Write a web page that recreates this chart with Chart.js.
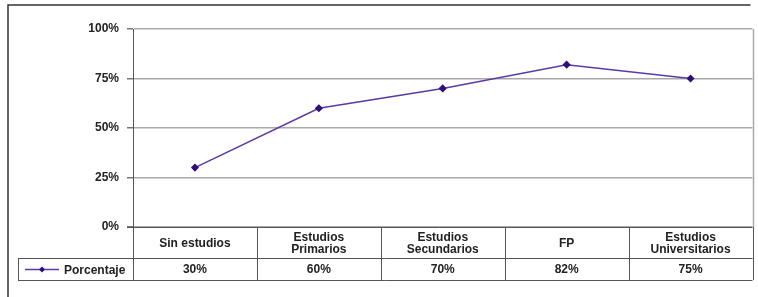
<!DOCTYPE html>
<html>
<head>
<meta charset="utf-8">
<script src="https://cdn.jsdelivr.net/npm/chart.js@4"></script>
<style>
  html, body { margin: 0; padding: 0; background: #fff; }
  #wrap { width: 758px; height: 297px; position: relative; }
</style>
</head>
<body>
<div id="wrap"><canvas id="chart"></canvas></div>
<script>
const categories = [
    ['Sin estudios'],
    ['Estudios', 'Primarios'],
    ['Estudios', 'Secundarios'],
    ['FP'],
    ['Estudios', 'Universitarios']
];
const porcentaje = [30, 60, 70, 82, 75];
const seriesName = 'Porcentaje';
const yTicks = [0, 25, 50, 75, 100];

const FONT = 'bold 12px "Liberation Sans", Arial, sans-serif';
const LINE_COLOR = '#5a3aa6';
const POINT_COLOR = '#2e0f7a';

// draws the outer frame and the data table under the plot
const tablePlugin = {
    id: 'dataTable',
    afterDraw(chart) {
        const ctx = chart.ctx;
        const area = chart.chartArea;
        const x = chart.scales.x;
        const colW = (area.right - area.left) / categories.length;
        const rowTop = area.bottom;
        const rowMid = rowTop + 31;
        const rowBot = rowMid + 22;
        const legendLeft = 18;

        ctx.save();
        // outer frame
        ctx.strokeStyle = '#333';
        ctx.lineWidth = 1.5;
        ctx.beginPath();
        ctx.moveTo(8, 297);
        ctx.lineTo(8, 5);
        ctx.lineTo(area.right - 2, 5);
        ctx.stroke();

        // right edge of the plot area
        ctx.strokeStyle = '#aaa';
        ctx.lineWidth = 1.5;
        ctx.beginPath();
        ctx.moveTo(Math.round(area.right) + 0.5, area.top);
        ctx.lineTo(Math.round(area.right) + 0.5, rowTop);
        ctx.stroke();

        // table lines
        ctx.strokeStyle = '#555';
        ctx.lineWidth = 1;
        ctx.beginPath();
        ctx.moveTo(area.left - 6, rowTop + 0.5);
        ctx.lineTo(area.right, rowTop + 0.5);
        ctx.moveTo(legendLeft, rowMid + 0.5);
        ctx.lineTo(area.right, rowMid + 0.5);
        ctx.moveTo(legendLeft, rowBot + 0.5);
        ctx.lineTo(area.right, rowBot + 0.5);
        ctx.moveTo(legendLeft + 0.5, rowMid);
        ctx.lineTo(legendLeft + 0.5, rowBot);
        for (let i = 0; i <= categories.length; i++) {
            const cx = Math.round(area.left + i * colW) + 0.5;
            ctx.moveTo(cx, rowTop);
            ctx.lineTo(cx, rowBot);
        }
        ctx.stroke();

        // category and value text
        ctx.fillStyle = '#222';
        ctx.font = FONT;
        ctx.textAlign = 'center';
        ctx.textBaseline = 'middle';
        categories.forEach((lines, i) => {
            const cx = x.getPixelForValue(i);
            const cy = (rowTop + rowMid) / 2 + 1;
            lines.forEach((t, j) => {
                ctx.fillText(t, cx, cy + (j - (lines.length - 1) / 2) * 12);
            });
            ctx.fillText(porcentaje[i] + '%', cx, (rowMid + rowBot) / 2 + 1);
        });

        // legend key
        const ly = Math.round((rowMid + rowBot) / 2) + 0.5;
        ctx.strokeStyle = LINE_COLOR;
        ctx.lineWidth = 1.5;
        ctx.beginPath();
        ctx.moveTo(25, ly);
        ctx.lineTo(59, ly);
        ctx.stroke();
        ctx.fillStyle = POINT_COLOR;
        ctx.beginPath();
        ctx.moveTo(42, ly - 3);
        ctx.lineTo(45, ly);
        ctx.lineTo(42, ly + 3);
        ctx.lineTo(39, ly);
        ctx.closePath();
        ctx.fill();
        ctx.fillStyle = '#222';
        ctx.textAlign = 'left';
        ctx.fillText(seriesName, 64, ly + 1);
        ctx.restore();
    }
};

new Chart(document.getElementById('chart'), {
    type: 'line',
    data: {
        labels: categories.map(c => c.join(' ')),
        datasets: [{
            label: seriesName,
            data: porcentaje,
            borderColor: LINE_COLOR,
            backgroundColor: POINT_COLOR,
            pointBackgroundColor: POINT_COLOR,
            pointBorderColor: POINT_COLOR,
            pointStyle: 'rectRot',
            pointRadius: 3,
            borderWidth: 1.5,
            tension: 0
        }]
    },
    options: {
        responsive: true,
        maintainAspectRatio: false,
        animation: false,
        layout: { padding: { left: 0, top: 29, right: 3, bottom: 70 } },
        plugins: { legend: { display: false }, tooltip: { enabled: false } },
        scales: {
            x: {
                display: false,
                offset: true
            },
            y: {
                min: 0,
                max: 100,
                afterFit: s => { s.width = 133; },
                afterBuildTicks: s => { s.ticks = yTicks.map(v => ({ value: v })); },
                border: { display: true, color: '#555', width: 1 },
                grid: {
                    color: '#aaa',
                    lineWidth: 1.5,
                    tickLength: 6,
                    tickColor: '#777'
                },
                ticks: {
                    padding: 8,
                    color: '#222',
                    font: { family: '"Liberation Sans", Arial, sans-serif', size: 12, weight: 'bold' },
                    callback: v => v + '%'
                }
            }
        }
    },
    plugins: [tablePlugin]
});
</script>
</body>
</html>
